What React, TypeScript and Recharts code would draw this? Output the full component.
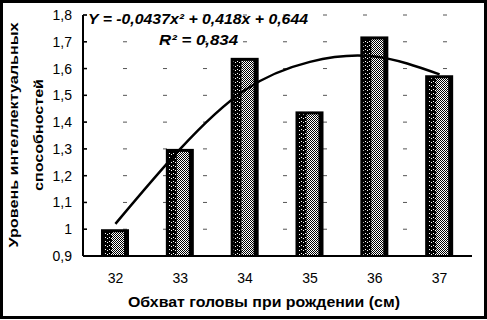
import { ComposedChart, Bar, Line, XAxis, YAxis, CartesianGrid } from 'recharts';

const categories = ['32', '33', '34', '35', '36', '37'];
const barValues = [1.0, 1.3, 1.64, 1.44, 1.72, 1.575];
const trendValues = [1.02, 1.3, 1.52, 1.625, 1.645, 1.578];
const yTicks = [0.9, 1.0, 1.1, 1.2, 1.3, 1.4, 1.5, 1.6, 1.7, 1.8];

const data = categories.map((c, i) => ({ size: c, value: barValues[i], trend: trendValues[i] }));

const font = '"Liberation Sans", Arial, sans-serif';

const formatTick = (v: number) => (v === 1 ? '1' : v.toFixed(1).replace('.', ','));

// scanned look: black frame, dark speckled left part, halftone grey right part
const HalftoneBar = (props: any) => {
  const { x, y, width, height } = props;
  if (!height || height <= 0) return null;
  return (
    <g>
      <rect x={x} y={y} width={width} height={height} fill="#000" />
      <rect x={x + 3} y={y + 3} width={8} height={height - 3} fill="url(#speckle)" />
      <rect x={x + 11} y={y + 3} width={width - 16} height={height - 3} fill="url(#halftone)" />
    </g>
  );
};

const YTick = (props: any) => {
  const { x, y, payload } = props;
  return (
    <g>
      <line x1={x + 11} x2={x + 15} y1={y} y2={y} stroke="#000" strokeWidth={1.5} />
      <text x={x} y={y} dy={5} textAnchor="end" fontFamily={font} fontSize={14} fill="#000">
        {formatTick(payload.value)}
      </text>
    </g>
  );
};

const XTick = (props: any) => {
  const { x, y, payload } = props;
  return (
    <text x={x} y={y + 19} textAnchor="middle" fontFamily={font} fontSize={14} fill="#000">
      {payload.value}
    </text>
  );
};

export default function App() {
  return (
    <div style={{ position: 'absolute', left: 0, top: 0, width: 487, height: 320, background: '#fff' }}>
      <ComposedChart
        width={487}
        height={320}
        data={data}
        margin={{ top: 15, right: 15, left: 0, bottom: 0 }}
        barCategoryGap={0}
      >
        <defs>
          <pattern id="halftone" width="2" height="2" patternUnits="userSpaceOnUse">
            <rect width="2" height="2" fill="#fff" />
            <rect x="0" y="0" width="1" height="1" fill="#000" />
            <rect x="1" y="1" width="1" height="1" fill="#000" />
          </pattern>
          <pattern id="speckle" width="4" height="4" patternUnits="userSpaceOnUse">
            <rect width="4" height="4" fill="#000" />
            <rect x="1" y="1" width="1" height="1" fill="#fff" />
            <rect x="3" y="2" width="1" height="1" fill="#fff" />
          </pattern>
        </defs>
        <CartesianGrid vertical={false} stroke="#555" strokeDasharray="4 36" />
        <XAxis
          dataKey="size"
          height={64}
          axisLine={{ stroke: '#000', strokeWidth: 2 }}
          tickLine={false}
          tick={<XTick />}
        />
        <YAxis
          width={83}
          domain={[0.9, 1.8]}
          ticks={yTicks}
          allowDataOverflow
          axisLine={{ stroke: '#000', strokeWidth: 2 }}
          tickLine={false}
          tickMargin={5}
          tick={<YTick />}
        />
        <Bar dataKey="value" barSize={28} shape={<HalftoneBar />} isAnimationActive={false} />
        <Line
          type="natural"
          dataKey="trend"
          stroke="#000"
          strokeWidth={2.5}
          dot={false}
          isAnimationActive={false}
        />
      </ComposedChart>
      <svg
        width={487}
        height={320}
        style={{ position: 'absolute', left: 0, top: 0, pointerEvents: 'none' }}
      >
        <rect x={1.5} y={1.5} width={484} height={316} fill="none" stroke="#000" strokeWidth={3} />
        <text
          x={88}
          y={24}
          fontFamily={font}
          fontSize={14}
          fontWeight="bold"
          fontStyle="italic"
          textLength={220}
          lengthAdjust="spacingAndGlyphs"
        >
          Y = -0,0437x² + 0,418x + 0,644
        </text>
        <text
          x={159}
          y={45}
          fontFamily={font}
          fontSize={14}
          fontWeight="bold"
          fontStyle="italic"
          textLength={79}
          lengthAdjust="spacingAndGlyphs"
        >
          R² = 0,834
        </text>
        <text
          transform="translate(18,135) rotate(-90)"
          textAnchor="middle"
          fontFamily={font}
          fontSize={13}
          fontWeight="bold"
          textLength={225}
          lengthAdjust="spacingAndGlyphs"
        >
          Уровень интеллектуальных
        </text>
        <text
          transform="translate(43,135) rotate(-90)"
          textAnchor="middle"
          fontFamily={font}
          fontSize={13}
          fontWeight="bold"
          textLength={112}
          lengthAdjust="spacingAndGlyphs"
        >
          способностей
        </text>
        <text
          x={264}
          y={307}
          textAnchor="middle"
          fontFamily={font}
          fontSize={14}
          fontWeight="bold"
          textLength={272}
          lengthAdjust="spacingAndGlyphs"
        >
          Обхват головы при рождении (см)
        </text>
      </svg>
    </div>
  );
}
